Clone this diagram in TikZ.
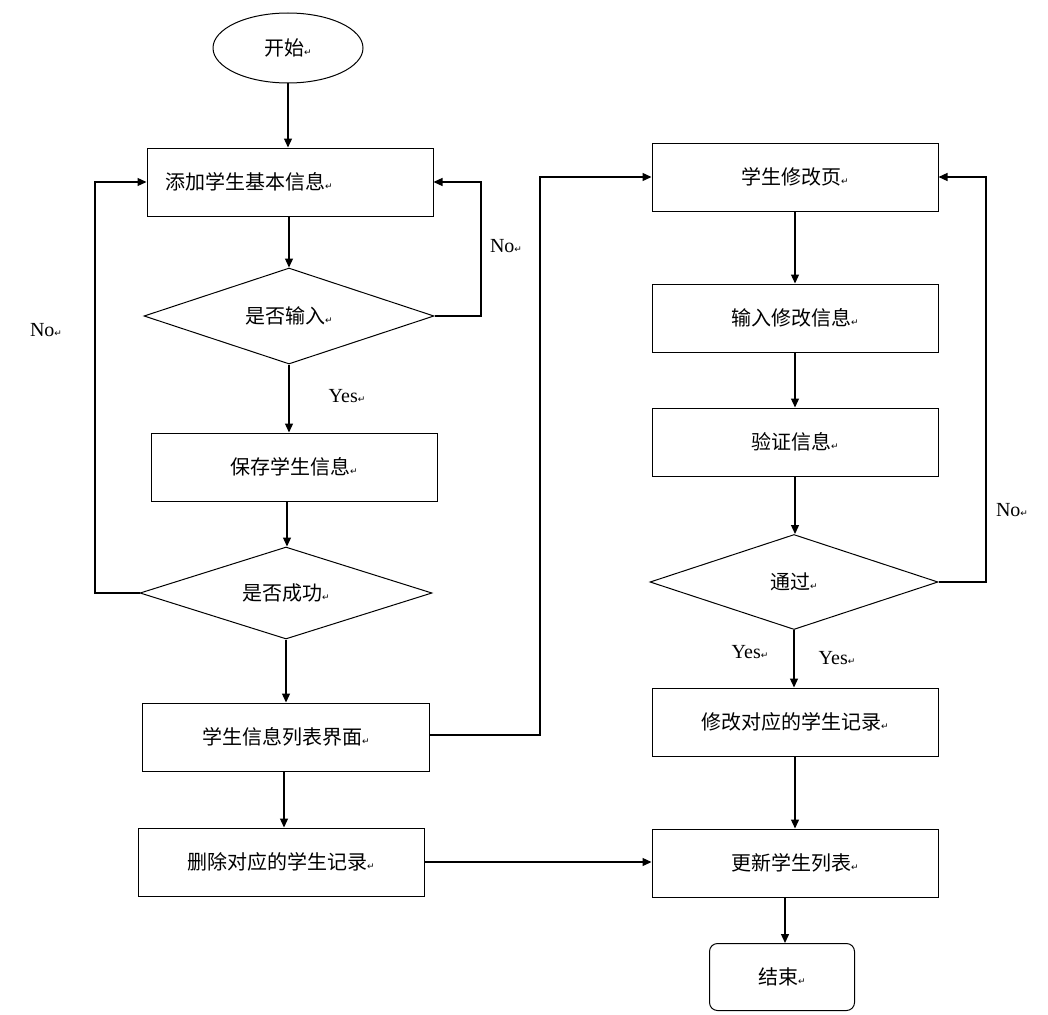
\documentclass[tikz,border=0pt]{standalone}
\usepackage{fontspec}
\setmainfont{Liberation Serif}
\newfontfamily\cjk{Noto Sans CJK SC}
\newfontfamily\dvs{DejaVu Sans}
\usetikzlibrary{shapes.geometric,arrows.meta}
\newcommand{\rt}{{\dvs\fontsize{9}{9}\selectfont ↵}}
\begin{document}
\begin{tikzpicture}[x=1pt,y=-1pt,
  box/.style={draw,line width=1pt,minimum width=286pt,minimum height=68pt,inner sep=0pt,font=\cjk\fontsize{20}{24}\selectfont},
  dia/.style={draw,line width=1pt,diamond,aspect=3,inner sep=0pt,font=\cjk\fontsize{20}{24}\selectfont},
  ar/.style={draw,line width=1.3pt,-{Triangle[length=9pt,width=8pt]}},
  lab/.style={font=\fontsize{20}{24}\selectfont}]
\useasboundingbox (0,0) rectangle (1048,1014);
\node[draw,line width=1pt,ellipse,minimum width=150pt,minimum height=70pt,font=\cjk\fontsize{20}{24}\selectfont] (s) at (288,48) {开始\rt};
\node[box,text width=250pt,align=left] (a) at (290,182) {添加学生基本信息\rt};
\node[dia,minimum width=290pt,minimum height=96pt] (d1) at (289,316) {是否输入\rt};
\node[box] (sv) at (294,467) {保存学生信息\rt};
\node[dia,minimum width=292pt,minimum height=92pt] (d2) at (286,593) {是否成功\rt};
\node[box,minimum width=287pt] (l) at (286,737) {学生信息列表界面\rt};
\node[box] (del) at (281,862) {删除对应的学生记录\rt};
\node[box] (mp) at (795,177) {学生修改页\rt};
\node[box] (im) at (795,318) {输入修改信息\rt};
\node[box] (v) at (795,442) {验证信息\rt};
\node[dia,minimum width=288pt,minimum height=95pt] (d3) at (794,582) {通过\rt};
\node[box] (mr) at (795,722) {修改对应的学生记录\rt};
\node[box] (u) at (795,863) {更新学生列表\rt};
\node[draw,line width=1pt,rounded corners=8pt,minimum width=145pt,minimum height=67pt,font=\cjk\fontsize{20}{24}\selectfont] (e) at (782,977) {结束\rt};
\coordinate (c1) at (481,316); \coordinate (c2) at (481,182);
\coordinate (c3) at (95,593); \coordinate (c4) at (95,182);
\coordinate (c5) at (540,735); \coordinate (c6) at (540,177);
\coordinate (c7) at (986,582); \coordinate (c8) at (986,177);
\draw[ar] (s.south) -- (a.north -| s.south);
\draw[ar] (a.south -| d1.north) -- (d1.north);
\draw[ar] (d1.east) -- (c1) -- (c2) -- (a.east);
\draw[ar] (d1.south) -- (sv.north -| d1.south);
\draw[ar] (sv.south -| 287,0) -- (d2.north -| 287,0);
\draw[ar] (d2.west) -- (c3) -- (c4) -- (a.west);
\draw[ar] (d2.south) -- (l.north -| d2.south);
\draw[ar] (l.south -| 284,0) -- (del.north -| 284,0);
\draw[ar] (l.east |- c5) -- (c5) -- (c6) -- (mp.west);
\draw[ar] (del.east) -- (u.west |- del.east);
\draw[ar] (mp.south) -- (im.north);
\draw[ar] (im.south) -- (v.north);
\draw[ar] (v.south) -- (d3.north -| v.south);
\draw[ar] (d3.east) -- (c7) -- (c8) -- (mp.east);
\draw[ar] (d3.south) -- (mr.north -| d3.south);
\draw[ar] (mr.south) -- (u.north);
\draw[ar] (u.south -| 785,0) -- (e.north -| 785,0);
\node[lab] (n1) at (506,246) {No\rt};
\node[lab] (y1) at (347,396) {Yes\rt};
\node[lab] (n2) at (46,330) {No\rt};
\node[lab] (n3) at (1012,510) {No\rt};
\node[lab] (y2) at (750,652) {Yes\rt};
\node[lab] (y3) at (837,658) {Yes\rt};
\end{tikzpicture}
\end{document}
